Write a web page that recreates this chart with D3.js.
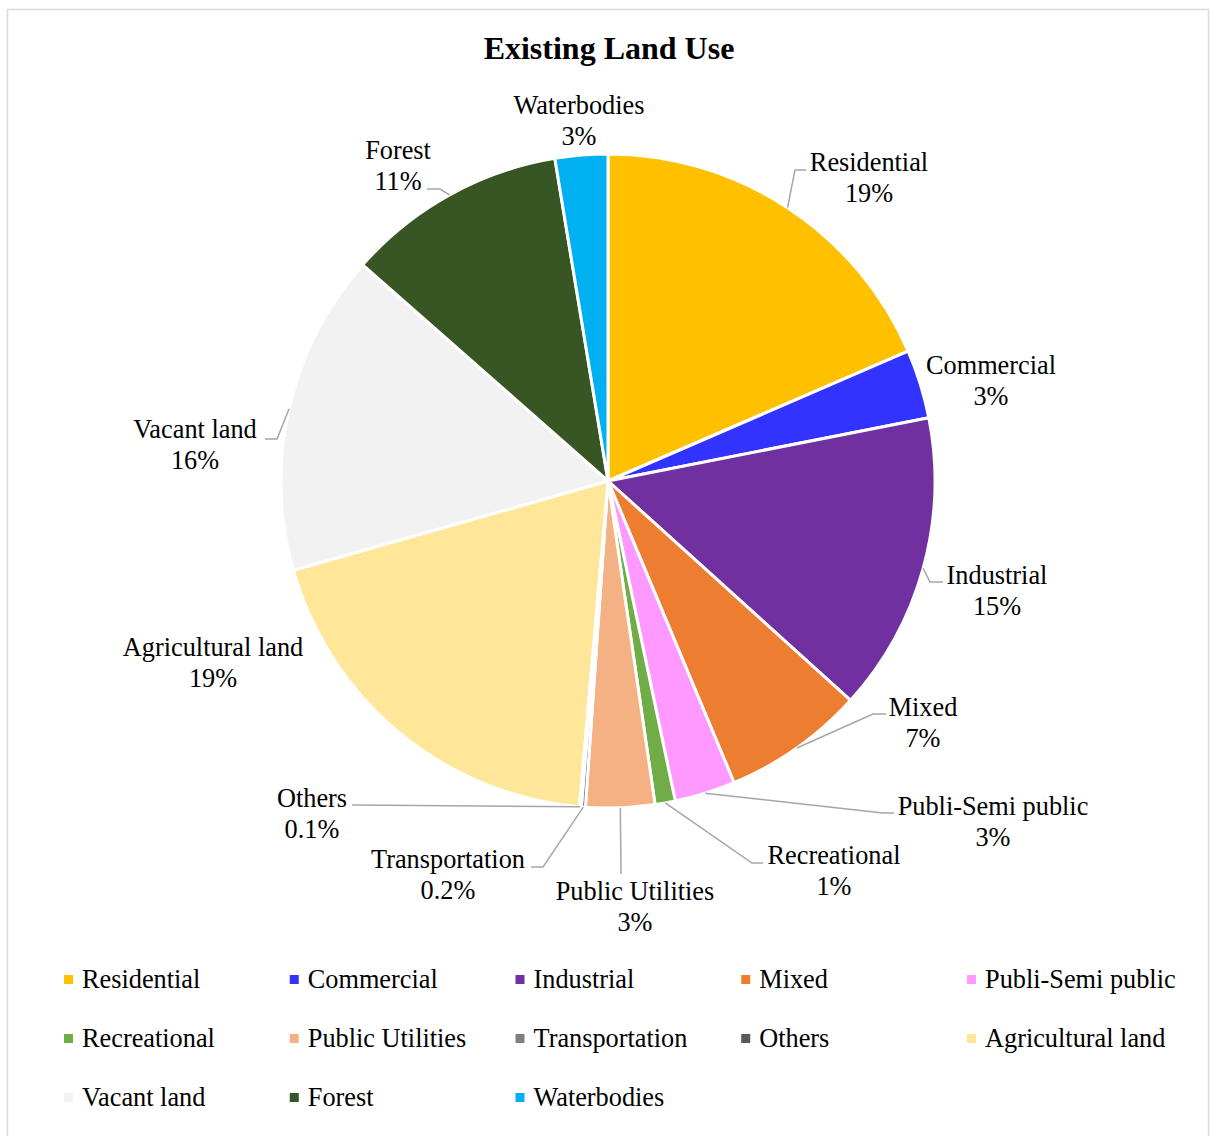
<!DOCTYPE html>
<html>
<head>
<meta charset="utf-8">
<script src="https://cdn.jsdelivr.net/npm/d3@7/dist/d3.min.js"></script>
<style>
  html, body { margin: 0; padding: 0; background: #fff; }
  svg { display: block; font-family: "Liberation Serif", "Times New Roman", serif; }
</style>
</head>
<body>
<svg id="chart" width="1210" height="1136"></svg>
<script>
// Land use categories and their share of total area (%)
const categories = [
  "Residential", "Commercial", "Industrial", "Mixed", "Publi-Semi public",
  "Recreational", "Public Utilities", "Transportation", "Others",
  "Agricultural land", "Vacant land", "Forest", "Waterbodies"
];
const shares = [18.5, 3.4, 14.8, 7.0, 3.0, 1.0, 3.4, 0.2, 0.1, 19.2, 15.9, 10.9, 2.6];
const colors = [
  "#FFC000", "#3333FF", "#7030A0", "#ED7D31", "#FF99FF",
  "#70AD47", "#F4B183", "#7F7F7F", "#595959",
  "#FFE699", "#F2F2F2", "#375623", "#00B0F0"
];

// Data label placement: x = text centre, y = baseline of the name line,
// leader = elbow point and end point of the connector (null = no connector)
const labelLayout = {
  "Residential":       { x: 869, y: 171, leader: [[795, 170], [806, 170]] },
  "Commercial":        { x: 991, y: 374, leader: null },
  "Industrial":        { x: 997, y: 584, leader: [[930, 582], [943, 582]] },
  "Mixed":             { x: 923, y: 716, leader: [[873, 714], [886, 714]] },
  "Publi-Semi public": { x: 993, y: 815, leader: [[883, 813], [894, 813]] },
  "Recreational":      { x: 834, y: 864, leader: [[752, 863], [763, 863]] },
  "Public Utilities":  { x: 635, y: 900, leader: [[621, 874], [621, 874]] },
  "Transportation":    { x: 448, y: 868, leader: [[543, 867], [531, 867]] },
  "Others":            { x: 312, y: 807, leader: [[356, 805], [352, 805]] },
  "Agricultural land": { x: 213, y: 656, leader: null },
  "Vacant land":       { x: 195, y: 438, leader: [[277, 439], [265, 439]] },
  "Forest":            { x: 398, y: 159, leader: [[440, 189], [427, 189]] },
  "Waterbodies":       { x: 579, y: 114, leader: null }
};

const data = categories.map((c, i) => ({ name: c, value: shares[i], color: colors[i] }));
const fmt = v => (v < 1 ? d3.format(".1f")(v) : d3.format(".0f")(Math.round(v))) + "%";

const svg = d3.select("#chart");

// chart area frame
svg.append("rect")
  .attr("x", 7.5).attr("y", 9.5)
  .attr("width", 1201).attr("height", 1140)
  .attr("fill", "#fff")
  .attr("stroke", "#D9D9D9").attr("stroke-width", 1.5);

// title
svg.append("text")
  .attr("x", 609).attr("y", 59)
  .attr("text-anchor", "middle")
  .attr("font-size", 32).attr("font-weight", "bold")
  .attr("fill", "#000")
  .text("Existing Land Use");

// pie
const cx = 608, cy = 481, radius = 327;
const pie = d3.pie().value(d => d.value).sort(null);
const arcs = pie(data);
const arc = d3.arc().innerRadius(0).outerRadius(radius);

const g = svg.append("g").attr("transform", `translate(${cx},${cy})`);
g.selectAll("path.slice")
  .data(arcs)
  .join("path")
  .attr("class", "slice")
  .attr("d", arc)
  .attr("fill", d => d.data.color)
  .attr("stroke", "#fff")
  .attr("stroke-width", 3)
  .attr("stroke-linejoin", "round");

// leader lines from each slice's outer edge midpoint
const edgePoint = d => {
  const a = (d.startAngle + d.endAngle) / 2;
  return [cx + radius * Math.sin(a), cy - radius * Math.cos(a)];
};
svg.append("g")
  .selectAll("polyline")
  .data(arcs.filter(d => labelLayout[d.data.name].leader))
  .join("polyline")
  .attr("points", d => {
    const L = labelLayout[d.data.name].leader;
    return [edgePoint(d), L[0], L[1]].map(p => p.join(",")).join(" ");
  })
  .attr("fill", "none")
  .attr("stroke", "#A6A6A6")
  .attr("stroke-width", 1.5);

// data labels
const labels = svg.append("g")
  .selectAll("text")
  .data(arcs)
  .join("text")
  .attr("text-anchor", "middle")
  .attr("font-size", 26.3)
  .attr("fill", "#000");
labels.append("tspan")
  .attr("x", d => labelLayout[d.data.name].x)
  .attr("y", d => labelLayout[d.data.name].y)
  .text(d => d.data.name);
labels.append("tspan")
  .attr("x", d => labelLayout[d.data.name].x)
  .attr("y", d => labelLayout[d.data.name].y + 31)
  .text(d => fmt(d.data.value));

// legend: 5 columns, 3 rows
const legendCols = 5, colX = d3.scaleLinear().domain([0, 1]).range([64, 289.75]);
const rowY = d3.scaleLinear().domain([0, 1]).range([988, 1047]);
const legend = svg.append("g")
  .selectAll("g")
  .data(data)
  .join("g")
  .attr("transform", (d, i) => `translate(${colX(i % legendCols)},${rowY(Math.floor(i / legendCols))})`);
legend.append("rect")
  .attr("x", 0).attr("y", -13)
  .attr("width", 9).attr("height", 9)
  .attr("fill", d => d.color);
legend.append("text")
  .attr("x", 18).attr("y", 0)
  .attr("font-size", 26.3)
  .attr("fill", "#000")
  .text(d => d.name);
</script>
</body>
</html>
